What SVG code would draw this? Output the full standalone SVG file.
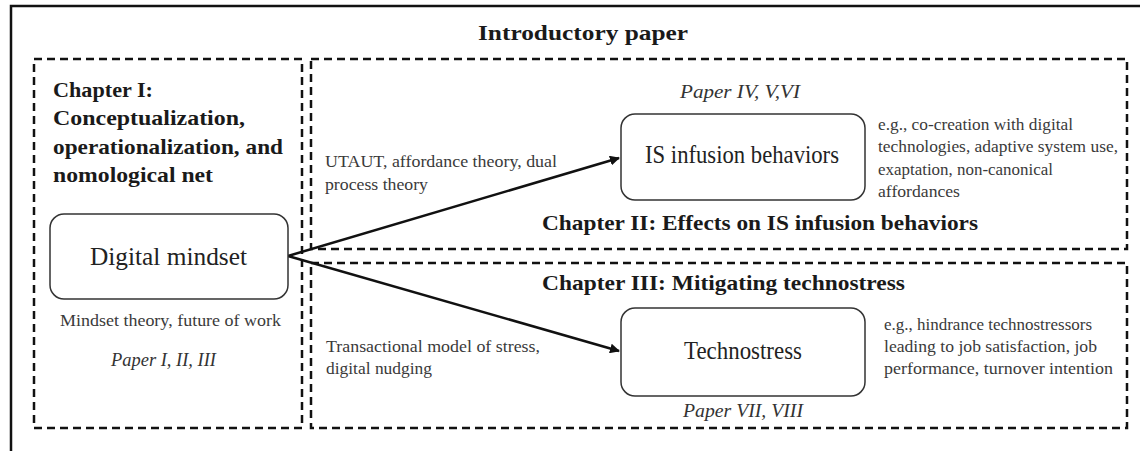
<svg xmlns="http://www.w3.org/2000/svg" width="1140" height="451" viewBox="0 0 1140 451">
  <style>
    text { font-family: "Liberation Serif", "DejaVu Serif", serif; }
    .title { font-size: 22px; font-weight: bold; fill: #1a1a1a; }
    .node-label { font-size: 26px; fill: #222; text-anchor: middle; }
    .note { font-size: 17px; fill: #3a3a3a; }
    .paper { font-size: 18px; font-style: italic; fill: #333; text-anchor: middle; }
    .frame { fill: none; stroke: #111; stroke-width: 2.5; stroke-dasharray: 8 5; }
    .node { fill: #fff; stroke: #333; stroke-width: 1.5; }
    .edge { fill: none; stroke: #111; stroke-width: 2.5; }
  </style>
  <defs>
    <marker id="arrow" viewBox="0 0 10 10" refX="9" refY="5" markerWidth="4" markerHeight="4" orient="auto" markerUnits="strokeWidth">
      <path d="M0,0 L10,5 L0,10 z" fill="#111"/>
    </marker>
  </defs>

  <rect width="1140" height="451" fill="#fff"/>

  <!-- outer frame -->
  <rect x="11" y="6" width="1140" height="460" fill="none" stroke="#111" stroke-width="2.5"/>
  <text class="title" x="583" y="40" text-anchor="middle" font-size="24" textLength="210" lengthAdjust="spacingAndGlyphs">Introductory paper</text>

  <!-- chapter frames -->
  <g id="chapter-1">
    <rect class="frame" x="34" y="59" width="268" height="369"/>
    <text class="title" x="53" y="97" textLength="100" lengthAdjust="spacingAndGlyphs">Chapter I:</text>
    <text class="title" x="53" y="125" textLength="192" lengthAdjust="spacingAndGlyphs">Conceptualization,</text>
    <text class="title" x="53" y="154" textLength="230" lengthAdjust="spacingAndGlyphs">operationalization, and</text>
    <text class="title" x="53" y="182" textLength="160" lengthAdjust="spacingAndGlyphs">nomological net</text>
  </g>
  <g id="chapter-2">
    <rect class="frame" x="311" y="59" width="816" height="190"/>
    <text class="title" x="542" y="230" textLength="436" lengthAdjust="spacingAndGlyphs">Chapter II: Effects on IS infusion behaviors</text>
  </g>
  <g id="chapter-3">
    <rect class="frame" x="311" y="263" width="816" height="165"/>
    <text class="title" x="542" y="290" textLength="363" lengthAdjust="spacingAndGlyphs">Chapter III: Mitigating technostress</text>
  </g>

  <!-- connectors -->
  <g id="connectors">
    <line class="edge" x1="288" y1="256" x2="619" y2="158" marker-end="url(#arrow)"/>
    <line class="edge" x1="288" y1="256" x2="619" y2="351" marker-end="url(#arrow)"/>
    <text class="note" x="325" y="167" textLength="232" lengthAdjust="spacingAndGlyphs">UTAUT, affordance theory, dual</text>
    <text class="note" x="325" y="190" textLength="103" lengthAdjust="spacingAndGlyphs">process theory</text>
    <text class="note" x="326" y="352" textLength="214" lengthAdjust="spacingAndGlyphs">Transactional model of  stress,</text>
    <text class="note" x="326" y="374" textLength="106" lengthAdjust="spacingAndGlyphs">digital nudging</text>
  </g>

  <!-- nodes -->
  <g id="digital-mindset">
    <rect class="node" x="50" y="214" width="238" height="85" rx="14"/>
    <text class="node-label" x="168.5" y="265" textLength="157" lengthAdjust="spacingAndGlyphs">Digital mindset</text>
    <text class="note" x="170.5" y="326" text-anchor="middle" textLength="221" lengthAdjust="spacingAndGlyphs">Mindset theory, future of work</text>
    <text class="paper" x="163.5" y="366" textLength="105" lengthAdjust="spacingAndGlyphs">Paper I, II, III</text>
  </g>
  <g id="is-infusion">
    <rect class="node" x="621" y="114" width="244" height="86" rx="14"/>
    <text class="node-label" x="742" y="163" textLength="194" lengthAdjust="spacingAndGlyphs">IS infusion behaviors</text>
    <text class="paper" x="740" y="98" textLength="120" lengthAdjust="spacingAndGlyphs">Paper IV, V,VI</text>
    <text class="note" x="878" y="130" textLength="195" lengthAdjust="spacingAndGlyphs">e.g., co-creation with digital</text>
    <text class="note" x="878" y="152" textLength="240" lengthAdjust="spacingAndGlyphs">technologies, adaptive system use,</text>
    <text class="note" x="878" y="175" textLength="175" lengthAdjust="spacingAndGlyphs">exaptation, non-canonical</text>
    <text class="note" x="878" y="197" textLength="82" lengthAdjust="spacingAndGlyphs">affordances</text>
  </g>
  <g id="technostress">
    <rect class="node" x="621" y="308" width="244" height="88" rx="14"/>
    <text class="node-label" x="743" y="359" textLength="118" lengthAdjust="spacingAndGlyphs">Technostress</text>
    <text class="paper" x="743" y="417" textLength="120" lengthAdjust="spacingAndGlyphs">Paper VII, VIII</text>
    <text class="note" x="884" y="330" textLength="208" lengthAdjust="spacingAndGlyphs">e.g., hindrance technostressors</text>
    <text class="note" x="884" y="352" textLength="213" lengthAdjust="spacingAndGlyphs">leading to job satisfaction, job</text>
    <text class="note" x="884" y="374" textLength="229" lengthAdjust="spacingAndGlyphs">performance, turnover intention</text>
  </g>
</svg>
